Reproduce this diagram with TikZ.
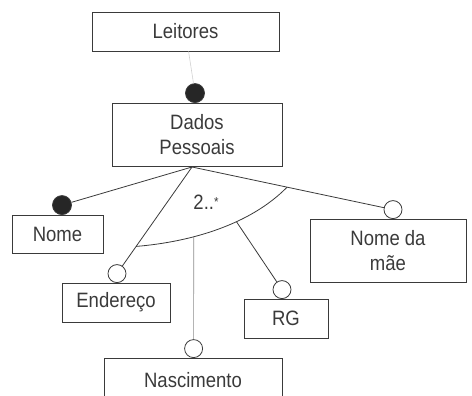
\documentclass[tikz,border=0pt]{standalone}
\usepackage{fontspec}
\setmainfont{Liberation Sans}[FakeStretch=0.89]
\usetikzlibrary{calc}
\definecolor{ink}{HTML}{3A3A3A}
\begin{document}
\begin{tikzpicture}[x=1pt,y=-1pt,
  every node/.style={font=\fontsize{20.8}{25}\selectfont, text=ink},
  box/.style={draw=ink, line width=0.8pt, rectangle, inner sep=0pt, align=center},
  dot/.style={circle, draw=ink, fill=black!85, line width=0.8pt, inner sep=0pt, minimum size=19pt},
  ring/.style={circle, draw=ink, fill=white, line width=0.8pt, inner sep=0pt, minimum size=18pt},
  link/.style={draw=ink, line width=0.8pt},
  faint/.style={draw=black!18, line width=0.6pt}]
\useasboundingbox (0,0) rectangle (472,396);

% entity boxes
\node[box, minimum width=187pt, minimum height=39pt] (lei) at (185.5,31.5) {Leitores};
\node[box, minimum width=170pt, minimum height=63pt] (dp) at (197,134.5) {Dados\\Pessoais};
\node[box, minimum width=91pt, minimum height=38pt] (nome) at (57.5,234) {Nome};
\node[box, minimum width=156pt, minimum height=63pt] (mae) at (388,250.5) {Nome da\\mãe};
\node[box, minimum width=108pt, minimum height=39pt] (end) at (116,302.5) {Endereço};
\node[box, minimum width=84pt, minimum height=39pt] (rg) at (286,318.5) {RG};
\node[box, minimum width=178pt, minimum height=44pt] (nasc) at (193,380) {Nascimento};

% cardinality markers
\node[dot, anchor=south] (cdp) at (195,103) {};
\node[dot, anchor=south] (cnome) at (62,215) {};
\node[ring, anchor=south] (cmae) at (393,219) {};
\node[ring, anchor=south] (cend) at (117,283) {};
\node[ring, anchor=south] (crg) at (282,299) {};
\node[ring, anchor=south] (cnasc) at (193.6,358) {};

% connectors
\draw[faint] (lei) -- (cdp);
\coordinate (apex) at (192,167);
\draw[link] (apex) -- (cnome);
\draw[link] (apex) -- (cmae);
\draw[link] (apex) -- (cend);

% group arc with its attached attributes
\coordinate (gl) at ($(apex)!0.745!(cend.center)$);
\coordinate (gr) at ($(apex)!0.473!(cmae.center)$);
\draw[link] (gl) .. controls (190,242) and (250,225) .. (gr)
  coordinate[pos=0.35] (g1) coordinate[pos=0.62] (g2);
\draw[draw=black!45, line width=0.7pt] (g1) -- (cnasc);
\draw[link] (g2) -- (crg);

\node (card) at (206,202) {2..\raisebox{0.25ex}{\fontsize{13}{13}\selectfont*}};
\end{tikzpicture}
\end{document}
